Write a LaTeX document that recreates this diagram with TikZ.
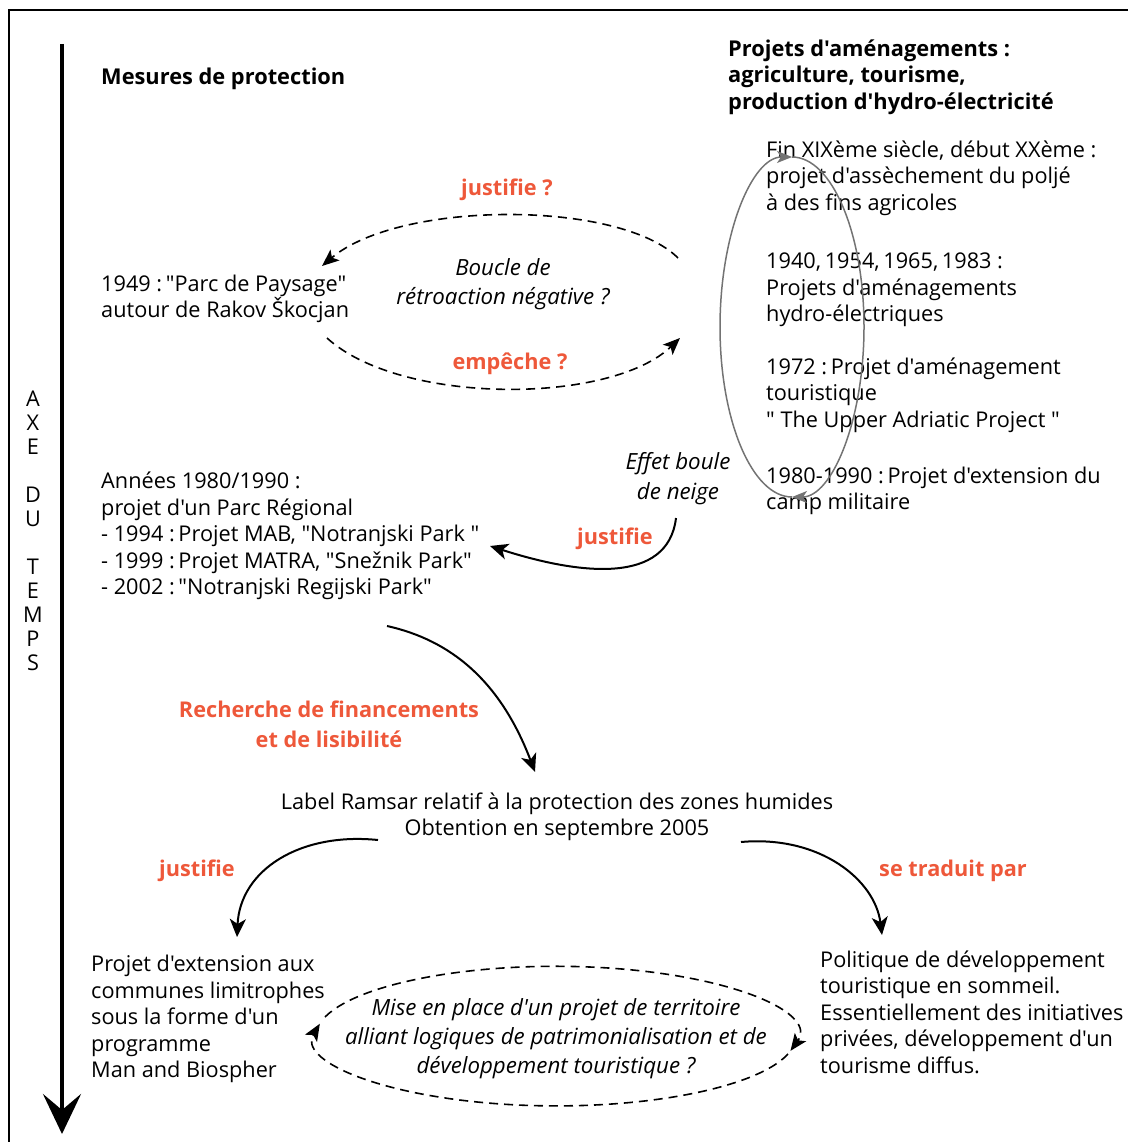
\documentclass[tikz,border=0pt]{standalone}
\usepackage{fontspec}
\setmainfont{Open Sans}[Ligatures=TeXOff]
\usetikzlibrary{positioning, arrows.meta}

\definecolor{labelred}{RGB}{238,88,58}

\begin{document}
\begin{tikzpicture}[
  x=1pt, y=-1pt,
  >={Stealth[length=18pt, width=16pt, inset=5pt]},
  txt/.style   = {inner sep=0pt, align=left, font=\fontsize{21.7}{26.5}\selectfont},
  ctxt/.style  = {txt, align=center},
  itxt/.style  = {inner sep=0pt, align=center, font=\fontsize{22.3}{29}\selectfont\itshape},
  title/.style = {inner sep=0pt, align=left, font=\fontsize{21.8}{26.5}\selectfont\bfseries},
  verb/.style  = {inner sep=0pt, align=center, text=labelred, font=\fontsize{21.7}{30}\selectfont\bfseries},
  link/.style  = {line width=2pt, ->},
  dashlink/.style = {line width=1.6pt, dash pattern=on 9pt off 6pt,
                     -{Stealth[length=17pt, width=14pt, inset=4pt]}},
  greyloop/.style = {line width=1.5pt, draw=black!55,
                     -{Stealth[length=15pt, width=12pt, inset=4pt]}},
]
  \useasboundingbox (0,0) rectangle (1128,1142);

  % frame and time axis
  \draw[line width=1.2pt] (9,1142) -- (9,10) -- (1128,10);
  \coordinate (ttop) at (62,44);
  \coordinate (tbot) at (62,1134);
  \draw[line width=4.5pt, -{Stealth[length=40pt, width=38pt, inset=16pt]}] (ttop) -- (tbot);
  \node[txt, align=center, font=\fontsize{21.7}{24}\selectfont] (axe) at (33,531)
    {A\\X\\E\\[24pt]D\\U\\[24pt]T\\E\\M\\P\\S};

  % column heads
  \node[title, anchor=west] (mesures) at (101,79) {Mesures de protection};
  \node[title, anchor=west] (projets) at (728,77)
    {Projets d'aménagements :\\agriculture, tourisme,\\production d'hydro-électricité};

  % right column
  \node[txt, anchor=west] (xix)   at (766,178) {Fin XIXème siècle, début XXème :\\projet d'assèchement du poljé\\à des fins agricoles};
  \node[txt, anchor=west] (hydro) at (766,290) {1940,\,1954,\,1965,\,1983 :\\Projets d'aménagements\\hydro-électriques};
  \node[txt, anchor=west] (tour)  at (766,395) {1972 :\,Projet d'aménagement\\touristique\\" The Upper Adriatic Project "};
  \node[txt, anchor=west] (camp)  at (766,491) {1980-1990 :\,Projet d'extension du\\camp militaire};

  \coordinate (gtop) at (792,157);
  \coordinate (gbot) at (792,497);
  \draw[greyloop] (gbot) arc[start angle=90, end angle=270, x radius=72, y radius=170];
  \draw[greyloop] (gtop) arc[start angle=-90, end angle=90, x radius=72, y radius=170];

  % negative feedback loop
  \node[txt, anchor=west] (parc49) at (101,299) {1949 :\,"Parc de Paysage"\\autour de Rakov Škocjan};
  \node[itxt] (boucle) at (503,284) {Boucle de\\rétroaction négative ?};
  \node[verb] (justq) at (507,190) {justifie ?};
  \node[verb] (empq)  at (510,364) {empêche ?};

  \coordinate (fbin)  at (678,258);
  \coordinate (fbout) at (322,266);
  \coordinate (ebin)  at (327,338);
  \coordinate (ebout) at (680,338);
  \draw[dashlink] (fbin) .. controls (620,200) and (400,200) .. (fbout);
  \draw[dashlink] (ebin) .. controls (400,405) and (610,405) .. (ebout);

  % regional park
  \node[txt, anchor=west] (parcreg) at (101,536)
    {Années 1980/1990 :\\projet d'un Parc Régional\\- 1994 :\,Projet MAB, "Notranjski Park "\\- 1999 :\,Projet MATRA, "Snežnik Park"\\- 2002 :\,"Notranjski Regijski Park"};
  \node[itxt, font=\fontsize{22.3}{30}\selectfont\itshape] (boule) at (678,479) {Effet boule\\de neige};
  \node[verb] (just1) at (615,539) {justifie};

  \coordinate (sbin)  at (676,518);
  \coordinate (sbout) at (490,546);
  \draw[link] (sbin) .. controls (668,585) and (580,575) .. (sbout);

  % Ramsar
  \node[verb] (rech) at (329,724) {Recherche de financements\\et de lisibilité};
  \node[ctxt] (ramsar) at (557,817)
    {Label Ramsar relatif à la protection des zones humides\\Obtention en septembre 2005};
  \coordinate (rin)  at (387,626);
  \coordinate (rout) at (535,772);
  \draw[link] (rin) .. controls (450,640) and (500,680) .. (rout);

  \node[verb] (just2) at (197,871) {justifie};
  \node[verb] (trad)  at (953,871) {se traduit par};
  \coordinate (lin)  at (378,840);
  \coordinate (lout) at (237,937);
  \coordinate (qin)  at (741,842);
  \coordinate (qout) at (882,935);
  \draw[link] (lin) .. controls (300,832) and (240,870) .. (lout);
  \draw[link] (qin) .. controls (820,835) and (875,880) .. (qout);

  % bottom row
  \node[txt, anchor=west] (mab) at (91,1019)
    {Projet d'extension aux\\communes limitrophes\\sous la forme d'un\\programme\\Man and Biospher};
  \node[txt, anchor=west] (polit) at (820,1012)
    {Politique de développement\\touristique en sommeil.\\Essentiellement des initiatives\\privées, développement d'un\\tourisme diffus.};
  \node[itxt] (mise) at (556,1039)
    {Mise en place d'un projet de territoire\\alliant logiques de patrimonialisation et de\\développement touristique ?};

  \coordinate (mtop) at (325,1017);
  \coordinate (mbot) at (788,1054);
  \draw[dashlink] (mtop) arc[start angle=196, end angle=372, x radius=240, y radius=70];
  \draw[dashlink] (mbot) arc[start angle=15, end angle=190, x radius=240, y radius=70];
\end{tikzpicture}
\end{document}
